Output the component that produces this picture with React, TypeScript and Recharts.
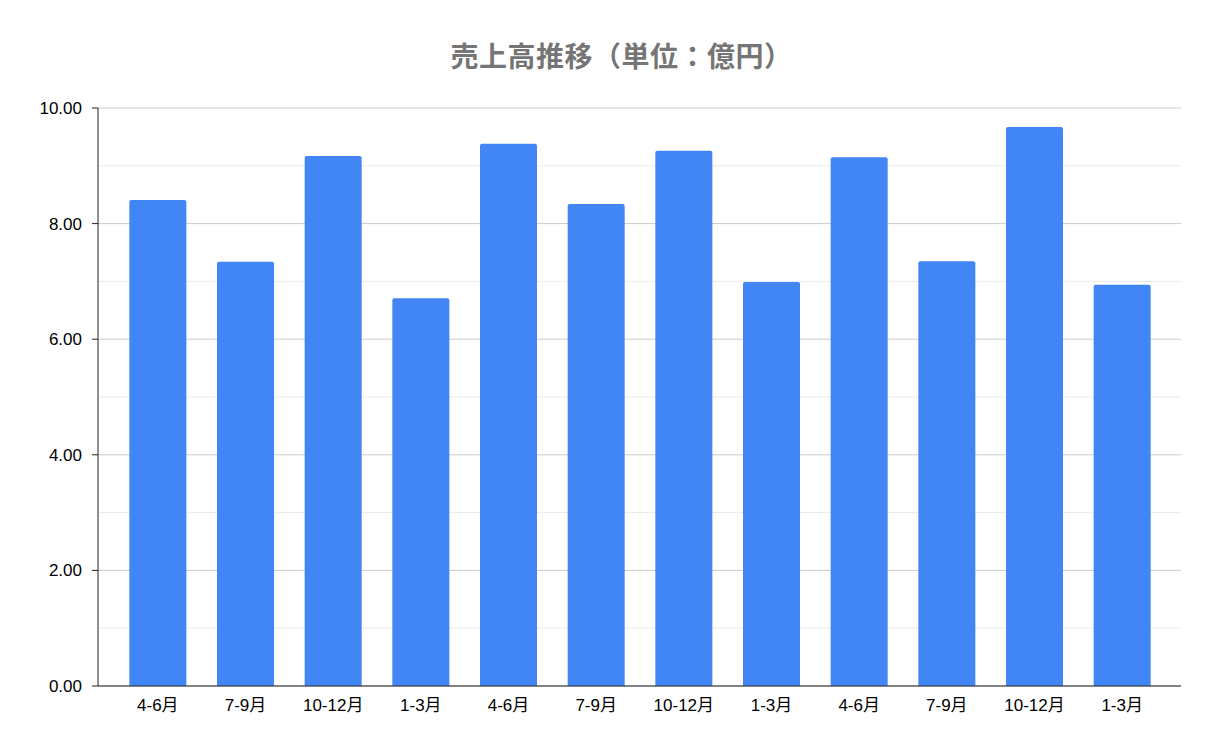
import React from "react";
import { Bar, BarChart, CartesianGrid, XAxis, YAxis } from "recharts";

const quarters = [
  "4-6月", "7-9月", "10-12月", "1-3月",
  "4-6月", "7-9月", "10-12月", "1-3月",
  "4-6月", "7-9月", "10-12月", "1-3月"
];
const sales = [8.41, 7.34, 9.17, 6.71, 9.38, 8.34, 9.26, 6.99, 9.15, 7.35, 9.67, 6.94];
const yTicks = [0, 2, 4, 6, 8, 10];
const minorTicks = [1, 3, 5, 7, 9];

const data = quarters.map((q, i) => ({ id: i, quarter: q, sales: sales[i] }));

const font = "Arial, 'Liberation Sans', 'Noto Sans CJK JP', sans-serif";

export default function App() {
  return (
    <div style={{ position: "absolute", left: 0, top: 0, width: 1219, height: 754, background: "#fff" }}>
      <div
        style={{
          position: "absolute",
          top: 35,
          left: 12,
          width: 1219,
          textAlign: "center",
          fontFamily: "'Noto Sans CJK JP', sans-serif",
          fontWeight: 700,
          fontSize: 28,
          lineHeight: "40px",
          letterSpacing: 0.5,
          color: "#757575"
        }}
      >
        売上高推移（単位：億円）
      </div>
      <BarChart
        width={1219}
        height={754}
        data={data}
        margin={{ top: 108, right: 38, bottom: 0, left: 0 }}
        barCategoryGap="17.5%"
      >
        <CartesianGrid vertical={false} horizontalValues={minorTicks} stroke="#ebebeb" />
        <CartesianGrid vertical={false} horizontalValues={yTicks} stroke="#cccccc" />
        <XAxis
          dataKey="id"
          tickFormatter={(i) => quarters[i]}
          tickLine={false}
          axisLine={{ stroke: "#222" }}
          height={68}
          padding={{ left: 16, right: 15 }}
          tickSize={6}
          tickMargin={7}
          tick={{ fill: "#000", fontSize: 17, fontFamily: font }}
        />
        <YAxis
          domain={[0, 10]}
          ticks={yTicks}
          interval={0}
          width={98}
          tickFormatter={(v) => Number(v).toFixed(2)}
          axisLine={{ stroke: "#222" }}
          tickLine={{ stroke: "#222" }}
          tickSize={6}
          tickMargin={10}
          tick={{ fill: "#000", fontSize: 17, fontFamily: font }}
        />
        <Bar dataKey="sales" fill="#4285f4" radius={[2, 2, 0, 0]} isAnimationActive={false} />
      </BarChart>
    </div>
  );
}
